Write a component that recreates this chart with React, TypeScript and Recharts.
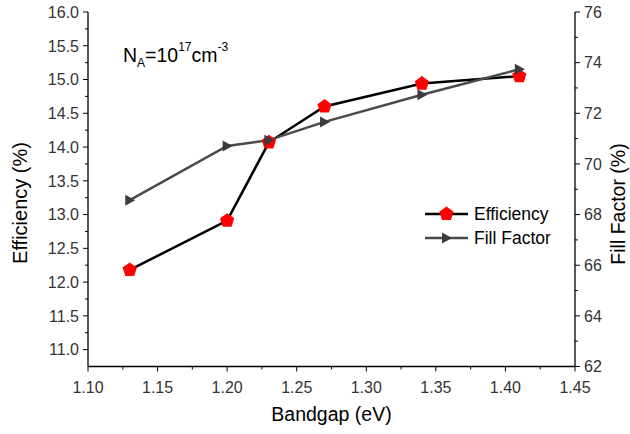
import React from "react";
import { LineChart, Line, XAxis, YAxis, Legend, Label } from "recharts";

const bandgap = [1.13, 1.2, 1.23, 1.27, 1.34, 1.41];
const efficiency = [12.18, 12.91, 14.07, 14.6, 14.94, 15.05];
const fillFactor = [68.57, 70.71, 70.94, 71.66, 72.73, 73.74];

const xMajorTicks = [1.1, 1.15, 1.2, 1.25, 1.3, 1.35, 1.4, 1.45];
const xTicks = [1.1, 1.125, 1.15, 1.175, 1.2, 1.225, 1.25, 1.275, 1.3, 1.325, 1.35, 1.375, 1.4, 1.425, 1.45];
const effMajorTicks = [11, 11.5, 12, 12.5, 13, 13.5, 14, 14.5, 15, 15.5, 16];
const effTicks = [11, 11.25, 11.5, 11.75, 12, 12.25, 12.5, 12.75, 13, 13.25, 13.5, 13.75, 14, 14.25, 14.5, 14.75, 15, 15.25, 15.5, 15.75, 16];
const ffMajorTicks = [62, 64, 66, 68, 70, 72, 74, 76];
const ffTicks = [62, 63, 64, 65, 66, 67, 68, 69, 70, 71, 72, 73, 74, 75, 76];

const data = bandgap.map((b, i) => ({ bandgap: b, eff: efficiency[i], ff: fillFactor[i] }));

const FONT = "'Liberation Sans', Arial, sans-serif";
const LABEL_COLOR = "#333";

const isIn = (list: number[], v: number) => list.some((m) => Math.abs(m - v) < 1e-6);

function BottomTick({ x, y, payload }: any) {
  const major = isIn(xMajorTicks, payload.value);
  return (
    <g>
      <line x1={x} x2={x} y1={y} y2={y + (major ? 5 : 3)} stroke="#000" strokeWidth={1} />
      {major && (
        <text x={x} y={y + 26} textAnchor="middle" fontSize={16} fill={LABEL_COLOR} fontFamily={FONT}>
          {payload.value.toFixed(2)}
        </text>
      )}
    </g>
  );
}

function TopTick({ x, y, payload }: any) {
  const major = isIn(xMajorTicks, payload.value);
  return <line x1={x} x2={x} y1={y} y2={y + (major ? 5 : 3)} stroke="#000" strokeWidth={1} />;
}

function LeftTick({ x, y, payload }: any) {
  const major = isIn(effMajorTicks, payload.value);
  return (
    <g>
      <line x1={x - (major ? 5 : 3)} x2={x} y1={y} y2={y} stroke="#000" strokeWidth={1} />
      {major && (
        <text x={x - 9} y={y} dy="0.36em" textAnchor="end" fontSize={16} fill={LABEL_COLOR} fontFamily={FONT}>
          {payload.value.toFixed(1)}
        </text>
      )}
    </g>
  );
}

function RightTick({ x, y, payload }: any) {
  const major = isIn(ffMajorTicks, payload.value);
  return (
    <g>
      <line x1={x} x2={x + (major ? 5 : 3)} y1={y} y2={y} stroke="#000" strokeWidth={1} />
      {major && (
        <text x={x + 9} y={y} dy="0.36em" textAnchor="start" fontSize={16} fill={LABEL_COLOR} fontFamily={FONT}>
          {payload.value}
        </text>
      )}
    </g>
  );
}

function pentagon(cx: number, cy: number, r: number) {
  const pts = [];
  for (let k = 0; k < 5; k++) {
    const a = ((-90 + 72 * k) * Math.PI) / 180;
    pts.push(`${cx + r * Math.cos(a)},${cy + r * Math.sin(a)}`);
  }
  return pts.join(" ");
}

function PentagonDot({ cx, cy }: any) {
  if (cx == null || cy == null) return null;
  return <polygon points={pentagon(cx, cy, 7.5)} fill="#ff0000" />;
}

function TriangleDot({ cx, cy }: any) {
  if (cx == null || cy == null) return null;
  return <polygon points={`${cx - 4.5},${cy - 5.5} ${cx + 5.5},${cy} ${cx - 4.5},${cy + 5.5}`} fill="#3c3c3c" />;
}

function LegendBox({ payload }: any) {
  const rows = payload || [];
  return (
    <svg width={180} height={50} style={{ display: "block" }}>
      {rows.map((entry: any, i: number) => {
        const cy = 14 + i * 24;
        const isEff = entry.dataKey === "eff";
        return (
          <g key={entry.value}>
            <line x1={5} x2={48} y1={cy} y2={cy} stroke={isEff ? "#000" : "#4a4a4a"} strokeWidth={2.5} />
            {isEff ? <PentagonDot cx={26.5} cy={cy} /> : <TriangleDot cx={26.5} cy={cy} />}
            <text x={54} y={cy} dy="0.36em" fontSize={17.5} fill="#000" fontFamily={FONT}>
              {entry.value}
            </text>
          </g>
        );
      })}
    </svg>
  );
}

export default function App() {
  return (
    <div style={{ position: "absolute", left: 0, top: 0, width: 630, height: 434, background: "#fff", fontFamily: FONT }}>
      <LineChart width={630} height={434} data={data} margin={{ top: 12, right: 0, bottom: 0, left: 0 }}>
        <XAxis
          xAxisId="bottom"
          dataKey="bandgap"
          type="number"
          domain={[1.1, 1.45]}
          ticks={xTicks}
          interval={0}
          height={67.5}
          tickSize={0}
          tickMargin={0}
          tickLine={false}
          axisLine={{ stroke: "#000", strokeWidth: 1.3 }}
          tick={<BottomTick />}
        >
          <Label
            content={() => (
              <text x={331.5} y={421} textAnchor="middle" fontSize={19.5} fill="#000" fontFamily={FONT}>
                Bandgap (eV)
              </text>
            )}
          />
        </XAxis>
        <XAxis
          xAxisId="top"
          orientation="top"
          dataKey="bandgap"
          type="number"
          domain={[1.1, 1.45]}
          ticks={xTicks}
          interval={0}
          height={0}
          tickSize={0}
          tickMargin={0}
          tickLine={false}
          axisLine={{ stroke: "#000", strokeWidth: 1.3 }}
          tick={<TopTick />}
        />
        <YAxis
          yAxisId="eff"
          orientation="left"
          type="number"
          domain={[10.75, 16]}
          ticks={effTicks}
          interval={0}
          width={88}
          tickSize={0}
          tickMargin={0}
          tickLine={false}
          axisLine={{ stroke: "#000", strokeWidth: 1.3 }}
          tick={<LeftTick />}
        >
          <Label
            content={() => (
              <text x={20} y={203} transform="rotate(-90 20 203)" textAnchor="middle" dy="0.36em" fontSize={20} fill="#000" fontFamily={FONT}>
                Efficiency (%)
              </text>
            )}
          />
        </YAxis>
        <YAxis
          yAxisId="ff"
          orientation="right"
          type="number"
          domain={[62, 76]}
          ticks={ffTicks}
          interval={0}
          width={55}
          tickSize={0}
          tickMargin={0}
          tickLine={false}
          axisLine={{ stroke: "#000", strokeWidth: 1.3 }}
          tick={<RightTick />}
        >
          <Label
            content={() => (
              <text x={618} y={204} transform="rotate(-90 618 204)" textAnchor="middle" dy="0.36em" fontSize={19.5} fill="#000" fontFamily={FONT}>
                Fill Factor (%)
              </text>
            )}
          />
        </YAxis>
        <Legend
          layout="vertical"
          align="center"
          verticalAlign="middle"
          wrapperStyle={{ position: "absolute", left: 420, top: 200, width: 180, height: 50 }}
          content={<LegendBox />}
        />
        <Line
          xAxisId="bottom"
          yAxisId="eff"
          dataKey="eff"
          name="Efficiency"
          stroke="#000"
          strokeWidth={2.5}
          dot={<PentagonDot />}
          activeDot={false}
          isAnimationActive={false}
        />
        <Line
          xAxisId="bottom"
          yAxisId="ff"
          dataKey="ff"
          name="Fill Factor"
          stroke="#4a4a4a"
          strokeWidth={2.5}
          dot={<TriangleDot />}
          activeDot={false}
          isAnimationActive={false}
        />
      </LineChart>
      <svg width={630} height={434} style={{ position: "absolute", left: 0, top: 0, pointerEvents: "none" }}>
        <text x={123} y={62} fontSize={19.5} fill="#000" fontFamily={FONT}>
          N
          <tspan fontSize={12} dy={5}>A</tspan>
          <tspan dy={-5}>=10</tspan>
          <tspan fontSize={12} dy={-11}>17</tspan>
          <tspan dy={11}>cm</tspan>
          <tspan fontSize={12} dy={-11}>-3</tspan>
        </text>
      </svg>
    </div>
  );
}
